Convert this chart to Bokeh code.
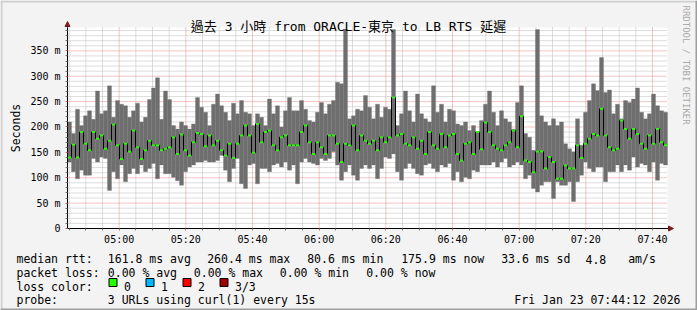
from bokeh.plotting import figure
from bokeh.models import Range1d, FixedTicker, Label, BoxAnnotation, Arrow, NormalHead, ColumnDataSource
from bokeh.embed import file_html
from bokeh.resources import INLINE

# ---------------- data ----------------
start_minute = 284.5          # 04:44:30, minutes after midnight
step_minutes = 1.2            # one column of smoke
window_minutes = 180

rtt_max = [210, 187, 235, 203, 222, 232, 215, 271, 226, 232, 281, 219, 252, 245, 242, 219, 232, 247, 210, 219,
           254, 277, 297, 215, 271, 254, 203, 196, 210, 203, 196, 206, 258, 239, 229, 203, 245, 265, 242, 229,
           213, 247, 226, 252, 229, 226, 203, 226, 219, 203, 255, 226, 242, 200, 232, 258, 232, 232, 252, 235,
           213, 210, 229, 248, 226, 245, 252, 288, 285, 393, 216, 222, 235, 232, 262, 239, 216, 245, 219, 239,
           235, 392, 203, 226, 271, 232, 210, 265, 226, 216, 210, 281, 229, 245, 210, 235, 232, 206, 203, 210,
           193, 203, 190, 213, 245, 271, 229, 203, 232, 216, 210, 196, 248, 281, 187, 180, 154, 392, 222, 210,
           203, 216, 203, 210, 167, 157, 151, 216, 164, 229, 252, 285, 272, 337, 268, 273, 226, 245, 216, 252,
           248, 255, 277, 229, 216, 226, 265, 242, 232, 229]
rtt_min = [131, 112, 98, 115, 105, 105, 138, 131, 141, 138, 75, 112, 98, 125, 92, 108, 118, 108, 125, 112,
           118, 128, 98, 125, 108, 108, 101, 94, 85, 112, 121, 125, 131, 131, 134, 131, 131, 134, 144, 115,
           92, 118, 138, 88, 79, 125, 128, 88, 118, 118, 112, 125, 128, 121, 131, 115, 125, 88, 131, 138,
           131, 128, 125, 138, 134, 138, 151, 125, 95, 112, 125, 105, 95, 118, 125, 118, 125, 98, 118, 141,
           138, 147, 112, 95, 118, 128, 118, 108, 105, 125, 128, 118, 112, 125, 121, 128, 95, 112, 92, 101,
           98, 115, 112, 125, 125, 125, 131, 121, 131, 138, 121, 125, 131, 125, 98, 105, 79, 72, 85, 92,
           92, 59, 92, 85, 85, 92, 53, 92, 105, 131, 118, 112, 121, 121, 92, 112, 112, 125, 112, 125,
           115, 141, 121, 128, 125, 112, 131, 95, 128, 125]
rtt_median = [140, 165, 140, 190, 167, 154, 190, 177, 183, 157, 173, 205, 164, 137, 167, 151, 193, 160, 137, 154,
              173, 164, 164, 154, 157, 160, 180, 147, 185, 154, 144, 170, 188, 186, 162, 183, 164, 173, 154, 144,
              167, 139, 167, 183, 203, 183, 149, 206, 170, 190, 193, 164, 154, 180, 183, 164, 164, 164, 190, 203,
              170, 147, 170, 160, 147, 183, 183, 167, 131, 167, 164, 203, 154, 183, 173, 167, 173, 154, 180, 170,
              180, 258, 183, 186, 167, 164, 180, 157, 173, 147, 190, 164, 157, 186, 160, 183, 186, 147, 134, 167,
              170, 147, 190, 156, 209, 190, 164, 157, 154, 164, 170, 193, 160, 221, 134, 131, 111, 151, 152, 118,
              141, 131, 98, 98, 124, 118, 118, 164, 139, 167, 177, 186, 183, 236, 183, 160, 154, 157, 213, 196,
              177, 196, 186, 167, 157, 183, 167, 196, 170, 164]

x_tick_minutes = [300, 320, 340, 360, 380, 400, 420, 440, 460]
x_tick_labels = ["05:00", "05:20", "05:40", "06:00", "06:20", "06:40", "07:00", "07:20", "07:40"]
y_tick_values = [0, 50, 100, 150, 200, 250, 300, 350]
y_tick_labels = ["0", "50 m", "100 m", "150 m", "200 m", "250 m", "300 m", "350 m"]
y_top = 396

title_text = "過去 3 小時 from ORACLE-東京 to LB RTS 延遲"
rtt_stats = ["161.8 ms avg", "260.4 ms max", "80.6 ms min", "175.9 ms now", "33.6 ms sd", "4.8", "am/s"]
loss_stats = ["0.00 % avg", "0.00 % max", "0.00 % min", "0.00 % now"]
loss_names = ["0", "1", "2", "3/3"]
loss_colors = ["#26FF00", "#00B8FF", "#FF0000", "#A00000"]
probe_text = "3 URLs using curl(1) every 15s"
stamp_text = "Fri Jan 23 07:44:12 2026"

# ---------------- geometry ----------------
W, H = 697, 310
PL, PR, PT, PB = 67, 667, 27, 228      # plot canvas in page pixels
MONO = "'DejaVu Sans Mono', 'Noto Sans CJK TC'"

x_end = start_minute + window_minutes
px_per_min = (PR - PL) / window_minutes
px_per_ms = (PB - PT) / y_top
xr = Range1d(start_minute - PL / px_per_min, x_end + (W - PR) / px_per_min)
yr = Range1d(-(H - PB) / px_per_ms, y_top + PT / px_per_ms)

n = len(rtt_median)
t = [start_minute + (i + 0.5) * step_minutes for i in range(n)]
src = ColumnDataSource(dict(t=t, lo=rtt_min, hi=rtt_max, med=rtt_median))

p = figure(width=W, height=H, output_backend="svg", toolbar_location=None, title=None,
           x_range=xr, y_range=yr, min_border=0,
           min_border_left=0, min_border_right=0, min_border_top=0, min_border_bottom=0)
p.background_fill_color = "#F3F3F3"
p.border_fill_color = "#F3F3F3"
p.outline_line_color = None
p.xgrid.visible = False
p.ygrid.visible = False

# plot canvas
p.add_layout(BoxAnnotation(left=start_minute, right=x_end, bottom=0, top=y_top,
                           fill_color="#FFFFFF", fill_alpha=1, line_alpha=0, level="underlay"))

# grid lines
x_minor = [m for m in range(285, 465, 5) if m % 20 != 0]
y_minor = [v for v in range(10, 400, 10) if v % 50 != 0]
p.segment(x0=x_minor, x1=x_minor, y0=[0] * len(x_minor), y1=[y_top] * len(x_minor),
          line_color="#BBBBBB", line_width=1, line_dash="1 1")
p.segment(x0=[start_minute] * len(y_minor), x1=[x_end] * len(y_minor), y0=y_minor, y1=y_minor,
          line_color="#BBBBBB", line_width=1, line_dash="1 1")
p.segment(x0=x_tick_minutes, x1=x_tick_minutes, y0=[0] * len(x_tick_minutes), y1=[y_top] * len(x_tick_minutes),
          line_color="#E88A8A", line_width=1, line_dash="1 1")
p.segment(x0=[start_minute] * len(y_tick_values), x1=[x_end] * len(y_tick_values), y0=y_tick_values,
          y1=y_tick_values, line_color="#E88A8A", line_width=1, line_dash="1 1")

# axes, fixed at the plot canvas edges
xt = FixedTicker(ticks=x_tick_minutes, minor_ticks=x_minor)
yt = FixedTicker(ticks=y_tick_values, minor_ticks=y_minor)
p.xaxis.ticker = xt
p.yaxis.ticker = yt
p.xaxis.fixed_location = 0
p.yaxis.fixed_location = start_minute
p.xaxis.bounds = (start_minute, x_end)
p.yaxis.bounds = (0, y_top)
p.xaxis.major_label_overrides = dict(zip(x_tick_minutes, x_tick_labels))
p.yaxis.major_label_overrides = dict(zip(y_tick_values, y_tick_labels))
for ax in (p.xaxis, p.yaxis):
    ax.axis_line_color = "#000000"
    ax.axis_line_width = 1
    ax.major_tick_in = 0
    ax.major_tick_out = 2
    ax.major_tick_line_color = "#E06060"
    ax.minor_tick_in = 0
    ax.minor_tick_out = 2
    ax.minor_tick_line_color = "#777777"
    ax.major_label_text_font = "DejaVu Sans Mono"
    ax.major_label_text_font_size = "10px"
    ax.major_label_text_color = "#000000"
p.yaxis.major_label_standoff = 5
p.xaxis.major_label_standoff = 3

# smoke, median line, median dots
p.vbar(x="t", width=step_minutes, bottom="lo", top="hi", source=src,
       fill_color="#6E6E6E", line_color="#6E6E6E", line_width=0.3)
p.step(x="t", y="med", mode="center", source=src, line_color="#000000", line_width=1)
p.rect(x="t", y="med", width=3, height=2, width_units="screen", height_units="screen",
       source=src, fill_color="#26FF00", line_color=None)


def sx(cx):
    return cx


def sy(cy):
    return H - cy


# axis arrows
head = dict(size=5, fill_color="#7F1F1F", line_color="#7F1F1F")
p.add_layout(Arrow(x_start=sx(PL), y_start=sy(PT), x_end=sx(PL), y_end=sy(PT - 6),
                   start_units="screen", end_units="screen", line_color="#000000", line_width=1,
                   end=NormalHead(**head)))
p.add_layout(Arrow(x_start=sx(PR - 1), y_start=sy(PB), x_end=sx(PR + 6), y_end=sy(PB),
                   start_units="screen", end_units="screen", line_color="#000000", line_width=1,
                   end=NormalHead(**head)))


def text(cx, cy, s, size="11.5px", align="left", angle=0.0, color="#000000"):
    p.add_layout(Label(x=sx(cx), y=sy(cy), x_units="screen", y_units="screen", text=s,
                       text_font=MONO, text_font_size=size, text_align=align,
                       text_baseline="alphabetic", angle=angle, text_color=color))


def box(l, t_, r, b, fill, line=None):
    p.add_layout(BoxAnnotation(left=sx(l), right=sx(r), top=sy(t_), bottom=sy(b),
                               left_units="screen", right_units="screen",
                               top_units="screen", bottom_units="screen",
                               fill_color=fill, fill_alpha=1,
                               line_color=line if line else "#000000", line_width=1,
                               line_alpha=1 if line else 0))


# borders (3D frame)
box(0, 0, W, 2, "#CFCFCF")
box(0, 0, 2, H, "#CFCFCF")
box(0, H - 2, W, H, "#9E9E9E")
box(W - 2, 0, W, H, "#9E9E9E")

# title, axis title, watermark
text(348, 25.5, title_text, size="13px", align="center")
text(15, 127.5, "Seconds", size="11.5px", align="center", angle=1.5707963)
text(685, 5, "RRDTOOL / TOBI OETIKER", size="9px", align="left", angle=-1.5707963, color="#AAAAAA")

# legend
rows = [258.5, 272.3, 286.0, 299.7]
text(16, rows[0], "median rtt:")
for cx, s in zip([107.3, 206.7, 306.7, 400.7, 500.7, 585, 627.7], rtt_stats):
    text(cx, rows[0], s)
text(16, rows[1], "packet loss:")
for cx, s in zip([107.3, 193.3, 279.3, 365.7], loss_stats):
    text(cx, rows[1], s)
text(16, rows[2], "loss color:")
for bx, s, c in zip([108.5, 145.5, 182.5, 219.5], loss_names, loss_colors):
    box(bx, rows[2] - 8, bx + 8, rows[2], c, "#000000")
    text(bx + 15, rows[2], s)
text(16, rows[3], "probe:")
text(107.3, rows[3], probe_text)
text(680, rows[3], stamp_text, align="right")

open("out.html", "w").write(file_html(p, INLINE))
